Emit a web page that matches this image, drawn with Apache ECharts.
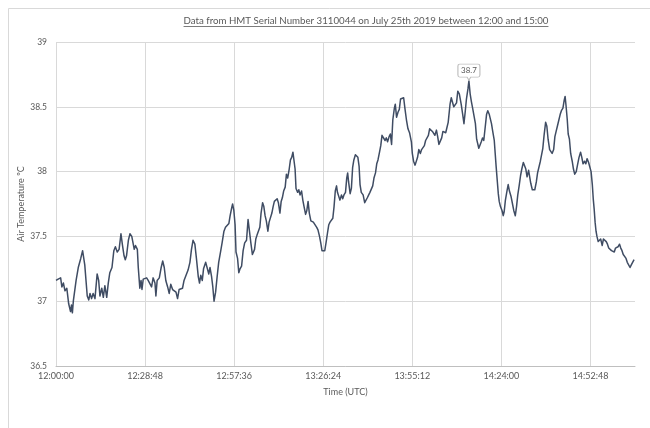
<!DOCTYPE html>
<html>
<head>
<meta charset="utf-8">
<script src="https://cdn.jsdelivr.net/npm/echarts@6/dist/echarts.min.js"></script>
<style>
  html, body { margin: 0; padding: 0; background: #fff; }
  #chart { width: 650px; height: 428px; }
</style>
</head>
<body>
<div id="chart"></div>
<script>
// HMT 3110044 air temperature log, 25 July 2019.
// Each reading: [minutes after 12:00:00 UTC, air temperature in °C]
const readings = [
  [0.0,37.16],[0.7,37.17],[1.5,37.18],[1.9,37.11],[2.4,37.14],[2.9,37.08],[3.5,37.10],[4.1,36.98],
  [4.7,36.92],[5.0,36.97],[5.3,36.91],[5.6,37.00],[6.5,37.16],[7.2,37.26],[8.0,37.33],[8.6,37.39],
  [9.3,37.28],[9.7,37.16],[10.1,37.04],[10.6,37.01],[11.0,37.06],[11.5,37.02],[12.0,37.06],[12.6,37.02],
  [13.3,37.21],[13.8,37.16],[14.2,37.04],[14.8,37.10],[15.3,37.03],[15.8,37.12],[16.4,37.03],[16.9,37.14],
  [17.4,37.22],[18.1,37.26],[18.7,37.39],[19.2,37.42],[19.8,37.38],[20.4,37.40],[21.0,37.52],[21.5,37.43],
  [22.0,37.35],[22.4,37.32],[22.8,37.35],[23.4,37.47],[23.9,37.52],[24.5,37.50],[25.0,37.49],[25.3,37.40],
  [25.7,37.43],[26.3,37.40],[26.6,37.26],[27.1,37.10],[27.5,37.16],[27.8,37.09],[28.2,37.17],[28.7,37.16],
  [29.3,37.18],[29.8,37.16],[30.4,37.17],[30.9,37.11],[31.4,37.18],[32.0,37.14],[32.3,37.04],[32.7,37.16],
  [33.4,37.18],[34.0,37.26],[34.5,37.31],[35.0,37.26],[35.5,37.16],[36.1,37.11],[36.6,37.06],[37.1,37.13],
  [37.7,37.09],[38.2,37.10],[38.8,37.07],[39.3,37.02],[39.8,37.09],[40.4,37.08],[40.9,37.10],[41.4,37.16],
  [42.2,37.21],[42.7,37.24],[43.3,37.30],[43.8,37.40],[44.3,37.47],[44.9,37.44],[45.4,37.33],[46.0,37.19],
  [46.4,37.14],[46.8,37.20],[47.3,37.16],[47.7,37.25],[48.4,37.30],[49.0,37.29],[49.4,37.21],[49.8,37.26],
  [50.3,37.19],[50.7,37.11],[51.1,37.00],[51.6,37.07],[52.1,37.19],[52.6,37.30],[53.2,37.38],[53.7,37.45],
  [54.3,37.54],[54.8,37.57],[55.3,37.58],[55.9,37.60],[56.3,37.66],[56.8,37.72],[57.1,37.75],[57.5,37.70],
  [57.9,37.59],[58.2,37.38],[58.7,37.33],[59.1,37.22],[59.5,37.25],[60.0,37.27],[60.5,37.39],[61.0,37.45],
  [61.6,37.47],[62.1,37.63],[62.6,37.62],[63.0,37.45],[63.5,37.36],[64.2,37.40],[64.6,37.48],[65.0,37.51],
  [65.5,37.50],[65.9,37.57],[66.3,37.68],[66.8,37.76],[67.2,37.73],[67.6,37.66],[68.0,37.62],[68.5,37.54],
  [68.9,37.61],[69.3,37.60],[69.8,37.68],[70.2,37.73],[70.6,37.77],[71.1,37.77],[71.5,37.79],[71.9,37.76],
  [72.4,37.68],[72.8,37.77],[73.2,37.80],[73.6,37.85],[74.1,37.88],[74.5,37.98],[74.9,37.95],[75.4,38.02],
  [75.8,38.09],[76.2,38.11],[76.6,38.15],[77.0,38.15],[77.3,38.02],[77.6,37.87],[78.1,37.84],[78.5,37.86],
  [78.9,37.82],[79.4,37.85],[79.8,37.78],[80.2,37.73],[80.7,37.67],[81.1,37.70],[81.5,37.77],[81.9,37.68],
  [82.4,37.62],[82.8,37.63],[83.2,37.61],[83.7,37.60],[84.3,37.57],[84.7,37.55],[85.2,37.50],[85.6,37.45],
  [86.0,37.39],[86.5,37.38],[86.9,37.39],[87.3,37.45],[87.8,37.53],[88.2,37.59],[88.6,37.61],[89.0,37.60],
  [89.5,37.64],[89.9,37.73],[90.3,37.85],[90.7,37.89],[91.0,37.84],[91.4,37.85],[91.8,37.78],[92.3,37.82],
  [92.7,37.79],[93.1,37.82],[93.6,37.84],[94.0,37.95],[94.3,37.99],[94.6,37.92],[95.1,37.83],[95.5,37.87],
  [95.9,38.03],[96.3,38.09],[96.8,38.13],[97.2,38.12],[97.6,38.11],[98.0,38.04],[98.3,37.90],[98.7,37.84],
  [99.3,37.82],[99.8,37.76],[100.2,37.75],[100.7,37.80],[101.1,37.82],[101.5,37.84],[102.0,37.83],[102.4,37.89],
  [102.8,37.95],[103.3,37.99],[103.7,38.06],[104.1,38.09],[104.6,38.15],[105.0,38.20],[105.4,38.28],[105.9,38.29],
  [106.4,38.24],[106.8,38.26],[107.2,38.23],[107.7,38.27],[108.1,38.29],[108.5,38.21],[108.9,38.40],[109.4,38.49],
  [109.7,38.52],[110.1,38.42],[110.6,38.46],[111.0,38.48],[111.4,38.56],[111.9,38.57],[112.4,38.57],[112.8,38.49],
  [113.3,38.40],[113.8,38.33],[114.3,38.30],[114.9,38.23],[115.2,38.14],[115.6,38.08],[116.1,38.05],[116.5,38.05],
  [116.9,38.11],[117.3,38.17],[117.8,38.14],[118.2,38.17],[118.6,38.16],[119.1,38.20],[119.5,38.24],[119.9,38.25],
  [120.4,38.28],[120.8,38.33],[121.2,38.32],[121.7,38.31],[122.1,38.32],[122.5,38.28],[123.0,38.32],[123.4,38.27],
  [123.8,38.21],[124.3,38.20],[124.7,38.26],[125.1,38.31],[125.6,38.32],[126.0,38.30],[126.4,38.34],[126.8,38.38],
  [127.4,38.52],[127.8,38.57],[128.2,38.56],[128.6,38.50],[129.1,38.49],[129.5,38.53],[129.9,38.62],[130.4,38.60],
  [130.6,38.61],[131.0,38.52],[131.5,38.44],[131.9,38.37],[132.3,38.46],[132.7,38.56],[133.2,38.64],[133.5,38.70],
  [133.9,38.60],[134.3,38.54],[134.7,38.49],[135.1,38.50],[135.6,38.37],[136.0,38.25],[136.3,38.26],[136.7,38.18],
  [137.2,38.17],[137.5,38.23],[137.9,38.26],[138.3,38.24],[138.8,38.35],[139.2,38.44],[139.6,38.47],[140.1,38.44],
  [140.4,38.45],[140.8,38.37],[141.2,38.31],[141.7,38.24],[142.0,38.14],[142.3,38.04],[142.7,37.92],[143.0,37.83],
  [143.3,37.77],[143.7,37.73],[144.2,37.70],[144.6,37.66],[144.9,37.69],[145.3,37.78],[145.8,37.85],[146.2,37.90],
  [146.6,37.85],[147.1,37.81],[147.6,37.75],[148.0,37.70],[148.5,37.66],[148.9,37.73],[149.3,37.82],[149.8,37.90],
  [150.2,37.97],[150.6,38.02],[151.1,38.07],[151.5,38.06],[151.9,38.02],[152.3,37.96],[152.8,38.01],[153.1,38.02],
  [153.5,37.91],[154.0,37.86],[154.4,37.85],[154.8,37.86],[155.3,37.92],[155.7,37.99],[156.1,38.00],[156.6,38.08],
  [157.0,38.09],[157.4,38.18],[157.8,38.28],[158.3,38.38],[158.7,38.35],[159.1,38.25],[159.6,38.17],[160.0,38.16],
  [160.4,38.14],[160.9,38.17],[161.3,38.27],[161.7,38.31],[162.1,38.35],[162.6,38.40],[163.0,38.44],[163.4,38.47],
  [163.9,38.49],[164.3,38.55],[164.6,38.58],[164.9,38.51],[165.3,38.40],[165.6,38.29],[166.0,38.25],[166.4,38.14],
  [166.9,38.08],[167.3,38.02],[167.7,37.98],[168.2,38.00],[168.6,38.05],[169.1,38.11],[169.6,38.15],[170.0,38.11],
  [170.4,38.06],[170.9,38.08],[171.3,38.06],[171.7,38.10],[172.2,38.07],[172.6,38.08],[173.0,38.00],[173.4,37.90],
  [173.7,37.79],[174.0,37.71],[174.3,37.61],[174.6,37.54],[174.9,37.50],[175.3,37.46],[175.7,37.45],[176.1,37.48],
  [176.6,37.43],[177.0,37.48],[177.4,37.49],[177.9,37.46],[178.3,37.44],[178.7,37.41],[179.2,37.40],[179.6,37.39],
  [180.0,37.39],[180.5,37.38],[180.9,37.41],[181.3,37.40],[181.7,37.42],[182.2,37.44],[182.6,37.41],[183.0,37.39],
  [183.4,37.36],[183.9,37.35],[184.3,37.33],[184.7,37.30],[185.2,37.29],[185.6,37.26],[186.0,37.28],[186.5,37.28],
  [186.9,37.32]
];

// Time axis: minutes after 12:00, ticks every 28.8 min (0.02 day)
const timeTickStep = 28.8;
const timeMax = 187.2;          // 15:07:12
const tempTicks = [36.5, 37, 37.5, 38, 38.5, 39];

const FONT = 'Lato, "Open Sans", sans-serif';
const GREY_TEXT = '#595959';

function clockLabel(minutes) {
  const total = Math.round(minutes * 60) + 12 * 3600;
  const h = Math.floor(total / 3600);
  const m = Math.floor((total % 3600) / 60);
  const s = total % 60;
  const pad = n => String(n).padStart(2, '0');
  return h + ':' + pad(m) + ':' + pad(s);
}

// Title is underlined; width measured so the rule spans the text exactly
const titleText = 'Data from HMT Serial Number 3110044 on July 25th 2019 between 12:00 and 15:00';
const titleFont = '9.7px ' + FONT;
const measureCtx = document.createElement('canvas').getContext('2d');
measureCtx.font = titleFont;
const titleWidth = measureCtx.measureText(titleText).width;
const titleCenterX = 366;
const titleUnderlineY = 26.5;

const chart = echarts.init(document.getElementById('chart'), null, { renderer: 'canvas' });

chart.setOption({
  backgroundColor: '#ffffff',
  animation: false,
  textStyle: { fontFamily: FONT },
  graphic: [
    // chart area frame
    { type: 'polyline', silent: true, shape: { points: [[8.5, 440], [8.5, 8.5], [660, 8.5]] },
      style: { stroke: '#d9d9d9', lineWidth: 1, fill: null } },
    { type: 'text', silent: true, left: titleCenterX - titleWidth / 2, top: 15.5,
      style: { text: titleText, font: titleFont, fill: GREY_TEXT } },
    { type: 'line', silent: true,
      shape: { x1: titleCenterX - titleWidth / 2, y1: titleUnderlineY, x2: titleCenterX + titleWidth / 2, y2: titleUnderlineY },
      style: { stroke: GREY_TEXT, lineWidth: 0.8 } }
  ],
  grid: { left: 56, right: 15, top: 42, bottom: 62, containLabel: false },
  xAxis: {
    type: 'value',
    min: 0,
    max: timeMax,
    interval: timeTickStep,
    name: 'Time (UTC)',
    nameLocation: 'middle',
    nameGap: 22,
    nameMoveOverlap: false,
    nameTextStyle: { color: GREY_TEXT, fontSize: 9, fontFamily: FONT },
    axisLine: { show: true, lineStyle: { color: '#bfbfbf', width: 1 } },
    axisTick: { show: false },
    axisLabel: {
      color: GREY_TEXT, fontSize: 9, fontFamily: FONT, margin: 6,
      showMaxLabel: false,
      formatter: v => clockLabel(v)
    },
    splitLine: { show: true, showMaxLine: false, lineStyle: { color: '#d9d9d9', width: 1 } }
  },
  yAxis: {
    type: 'value',
    min: tempTicks[0],
    max: tempTicks[tempTicks.length - 1],
    interval: 0.5,
    name: 'Air Temperature ºC',
    nameLocation: 'middle',
    nameGap: 30,
    nameMoveOverlap: false,
    nameRotate: 90,
    nameTextStyle: { color: GREY_TEXT, fontSize: 9, fontFamily: FONT },
    axisLine: { show: false },
    axisTick: { show: false },
    axisLabel: { color: GREY_TEXT, fontSize: 8.5, fontFamily: FONT, margin: 9 },
    splitLine: { show: true, lineStyle: { color: '#d9d9d9', width: 1 } }
  },
  series: [{
    type: 'line',
    data: readings,
    showSymbol: false,
    symbol: 'none',
    smooth: false,
    lineStyle: { color: '#3f4c63', width: 1.5, join: 'round' },
    itemStyle: { color: '#3f4c63' },
    markPoint: {
      silent: true,
      symbol: 'path://M2,0 H22 Q24,0 24,2 V11 Q24,13 22,13 H14 L12,16 L10,13 H2 Q0,13 0,11 V2 Q0,0 2,0 Z',
      symbolSize: [22, 16],
      symbolOffset: [0, '-55%'],
      itemStyle: { color: '#ffffff', borderColor: '#bfbfbf', borderWidth: 1 },
      label: {
        show: true, position: 'inside', offset: [0, -1.5],
        color: GREY_TEXT, fontSize: 8, fontFamily: FONT,
        formatter: p => p.value.toFixed(1)
      },
      data: [{ type: 'max', valueDim: 'y' }]
    }
  }]
});
</script>
</body>
</html>
